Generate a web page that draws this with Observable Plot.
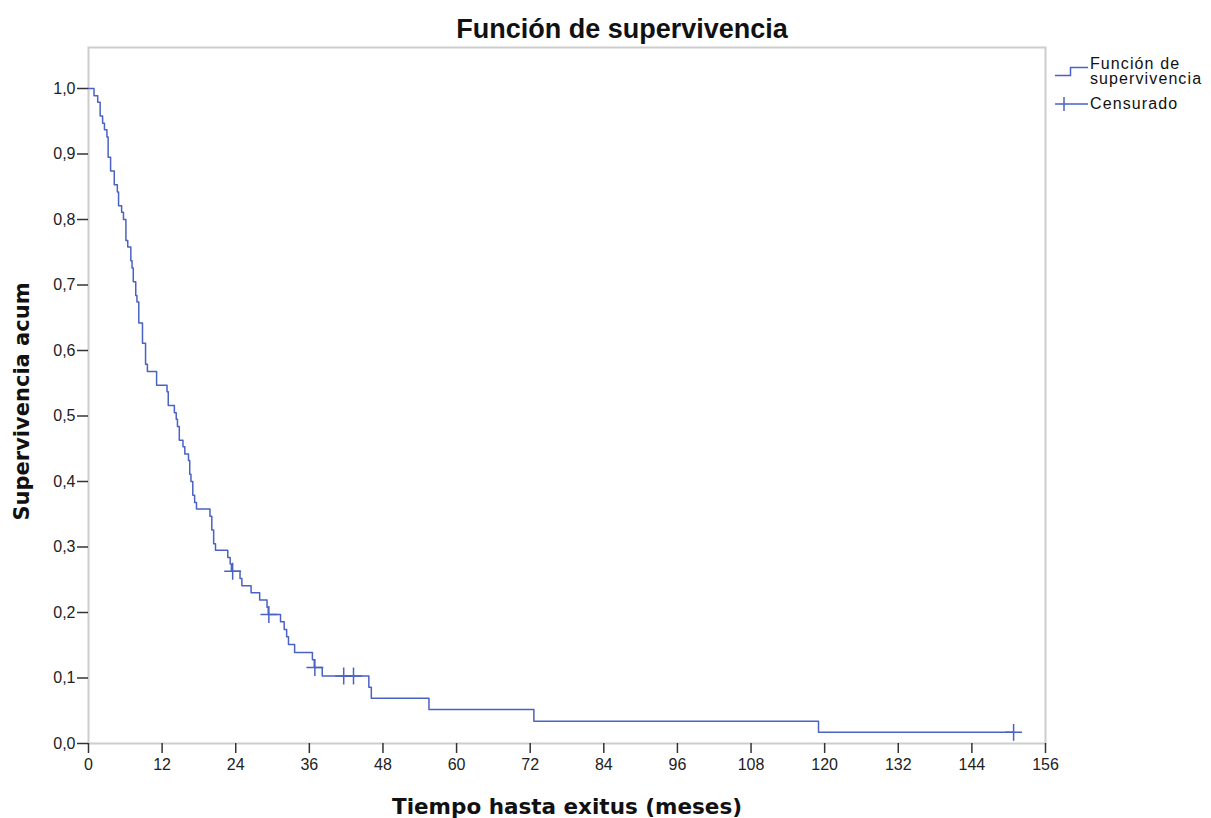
<!DOCTYPE html>
<html><head><meta charset="utf-8">
<script src="https://cdn.jsdelivr.net/npm/d3@7"></script>
<script src="https://cdn.jsdelivr.net/npm/@observablehq/plot@0.6"></script>
<style>
body{margin:0;background:#fff;}
#wrap{position:relative;width:1211px;height:818px;overflow:hidden;font-family:"Liberation Sans",Arial,sans-serif;}
#title{position:relative;height:44px;}
#title span{position:absolute;left:622px;top:16px;transform:translateX(-50%);font-weight:bold;font-size:27px;line-height:27px;white-space:nowrap;color:#111;}
#legend{position:absolute;left:1055px;top:56px;font-size:16px;line-height:15px;letter-spacing:1.1px;color:#111;}
.item{position:relative;padding-left:35px;white-space:nowrap;}
.item svg{position:absolute;left:0;}
</style></head><body>
<div id="wrap">
<div id="title"><span>Función de supervivencia</span></div>
<div id="chart"></div>
<div id="legend">
 <div class="item"><svg width="34" height="14" style="top:9px"><path d="M0,10.5H15.5V2.5H33" fill="none" stroke="#4a62c4" stroke-width="1.5"/></svg>Función de<br>supervivencia</div>
 <div class="item" style="margin-top:10px"><svg width="34" height="16" style="top:0px"><path d="M0,8H33M9,1V15" fill="none" stroke="#4a62c4" stroke-width="1.5"/></svg>Censurado</div>
</div>
</div>
<script>
const deathTimes = [0.9,1.5,1.9,2.3,2.6,3.0,3.2,3.6,4.2,4.7,4.9,5.4,5.7,6.1,6.4,6.9,7.1,7.3,7.7,7.9,8.2,8.8,9.3,9.6,11.1,12.8,13.0,14.0,14.3,14.5,14.8,15.4,15.7,16.3,16.5,16.7,17.0,17.3,17.6,19.8,20.1,20.4,20.7,22.7,23.1,23.3,24.7,25.0,26.5,27.9,29.1,29.3,31.3,31.9,32.3,32.6,33.6,36.5,36.8,38.1,45.7,46.1,55.5,72.6,119.0];
const survival = [0.989,0.979,0.958,0.947,0.937,0.926,0.895,0.874,0.853,0.842,0.821,0.811,0.800,0.768,0.758,0.737,0.726,0.705,0.684,0.674,0.642,0.611,0.579,0.568,0.547,0.537,0.516,0.505,0.495,0.484,0.463,0.453,0.442,0.432,0.411,0.400,0.379,0.368,0.358,0.347,0.326,0.305,0.295,0.284,0.274,0.263,0.252,0.241,0.230,0.219,0.208,0.197,0.186,0.174,0.163,0.151,0.139,0.128,0.116,0.103,0.086,0.069,0.052,0.034,0.017];
const censorTimes = [23.5,29.4,36.9,41.6,43.2,150.8];
const censorSurv = [0.263,0.197,0.116,0.103,0.103,0.017];
const xTicks = [0,12,24,36,48,60,72,84,96,108,120,132,144,156];
const yTicks = [0,0.1,0.2,0.3,0.4,0.5,0.6,0.7,0.8,0.9,1.0];
const startTime = 0, startSurv = 1.0;

const steps = [{t:startTime, s:startSurv}]
  .concat(deathTimes.map((t,i)=>({t, s:survival[i]})))
  .concat([{t:censorTimes[censorTimes.length-1], s:censorSurv[censorSurv.length-1]}]);
const censored = censorTimes.map((t,i)=>({t, s:censorSurv[i]}));
const blue = "#4a62c4";

const chart = Plot.plot({
  width:1211, height:774,
  marginLeft:88, marginRight:166, marginTop:3, marginBottom:75,
  style:{fontFamily:"'Liberation Sans', Arial, sans-serif", color:"#222", background:"#fff"},
  x:{domain:[0,156]},
  y:{domain:[0,1.0626]},
  marks:[
    Plot.frame({stroke:"#cdcdcd", strokeWidth:2}),
    Plot.axisX({ticks:xTicks, tickSize:10, tickPadding:5, fontSize:16, label:null, stroke:"#333", strokeWidth:1.5}),
    Plot.axisY({ticks:yTicks, tickSize:11, tickPadding:2, fontSize:16, label:null, stroke:"#333", strokeWidth:1.5,
      tickFormat:d=>d.toFixed(1).replace(".", ",")}),
    Plot.line(steps, {x:"t", y:"s", curve:"step-after", stroke:blue, strokeWidth:1.5}),
    Plot.dot(censored, {x:"t", y:"s", symbol:"plus", r:5.5, stroke:blue, strokeWidth:1.5}),
    Plot.text(["Tiempo hasta exitus (meses)"], {frameAnchor:"bottom", dy:70, text:d=>d, fontFamily:"'DejaVu Sans', Verdana, sans-serif", fontWeight:"bold", fontSize:21.5, fill:"#111"}),
    Plot.text(["Supervivencia acum"], {frameAnchor:"left", textAnchor:"middle", dx:-66, dy:6, rotate:-90, text:d=>d, fontFamily:"'DejaVu Sans', Verdana, sans-serif", fontWeight:"bold", fontSize:21, fill:"#111"})
  ]
});
document.getElementById("chart").appendChild(chart);
</script>
</body></html>
